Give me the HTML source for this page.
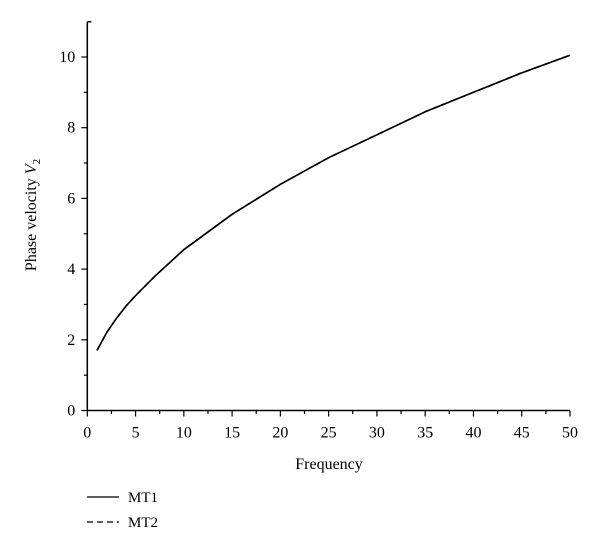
<!DOCTYPE html>
<html><head><meta charset="utf-8"><style>
body{margin:0;background:#fff}
svg{display:block;font-family:"Liberation Serif",serif}
</style></head><body>
<svg id="chart" width="600" height="547">
<g id="axes"></g>
<g id="series"></g>
<text x="329" y="469" font-size="16" text-anchor="middle">Frequency</text>
<text transform="translate(36,215) rotate(-90)" font-size="16" text-anchor="middle">Phase velocity <tspan font-style="italic">V</tspan><tspan font-size="11" dy="4">2</tspan></text>
<g>
<line x1="87" y1="497" x2="119" y2="497" stroke="#000" stroke-width="1.3"/>
<text x="128" y="502" font-size="15">MT1</text>
<line x1="87" y1="522" x2="119" y2="522" stroke="#000" stroke-width="1.3" stroke-dasharray="6,4"/>
<text x="128" y="527" font-size="15">MT2</text>
</g>
</svg>
<script>
const freq=[1,2,3,4,5,7,10,15,20,25,30,35,40,45,50];
const mt1=[1.7,2.2,2.6,2.95,3.25,3.8,4.55,5.55,6.4,7.15,7.8,8.45,9.0,9.55,10.05];
const mt2=[1.7,2.2,2.6,2.95,3.25,3.8,4.55,5.55,6.4,7.15,7.8,8.45,9.0,9.55,10.05];
const xTicks=[0,5,10,15,20,25,30,35,40,45,50];
const yTicks=[0,2,4,6,8,10];
const NS="http://www.w3.org/2000/svg";
const X=v=>87.3+v*(570-87.3)/50;
const Y=v=>410.5-v*35.35;
const axes=document.getElementById('axes'),ser=document.getElementById('series');
function mk(tag,at,parent){const e=document.createElementNS(NS,tag);for(const k in at)e.setAttribute(k,at[k]);parent.appendChild(e);return e;}
let a=mk('line',{x1:X(0),y1:Y(0),x2:X(50),y2:Y(0),stroke:'#000','stroke-width':1.5},axes);


a=mk('line',{x1:X(0),y1:21.7,x2:X(0),y2:Y(0),stroke:'#000','stroke-width':1.5},axes);


mk('line',{x1:X(0),y1:21.7,x2:X(0)+4,y2:21.7,stroke:'#000','stroke-width':1.5},axes);
xTicks.forEach((t,i)=>{
 mk('line',{x1:X(t),y1:Y(0),x2:X(t),y2:Y(0)+6,stroke:'#000','stroke-width':1.2},axes);
 if(i<xTicks.length-1) mk('line',{x1:X(t+2.5),y1:Y(0),x2:X(t+2.5),y2:Y(0)+3.5,stroke:'#000','stroke-width':1.2},axes);
 const tx=mk('text',{x:X(t),y:Y(0)+27,'font-size':16,'text-anchor':'middle'},axes);tx.textContent=t;
 
 
});
yTicks.forEach((t,i)=>{
 mk('line',{x1:X(0)-6,y1:Y(t),x2:X(0),y2:Y(t),stroke:'#000','stroke-width':1.2},axes);
 if(i<yTicks.length-1) mk('line',{x1:X(0)-3.5,y1:Y(t+1),x2:X(0),y2:Y(t+1),stroke:'#000','stroke-width':1.2},axes);
 const tx=mk('text',{x:X(0)-12,y:Y(t)+5,'font-size':16,'text-anchor':'end'},axes);tx.textContent=t;
 
 
});
function path(vals,dash,name){
 let d='';freq.forEach((f,i)=>{d+=(i?'L':'M')+X(f).toFixed(1)+','+Y(vals[i]).toFixed(1);});
 const p=mk('path',{d:d,fill:'none',stroke:'#000','stroke-width':1.6,'stroke-linejoin':'round'},ser);
 if(dash)p.setAttribute('stroke-dasharray',dash);
 
 
}
path(mt2,'6,4','line-mt2');
path(mt1,null,'line-mt1');
</script>
</body></html>
